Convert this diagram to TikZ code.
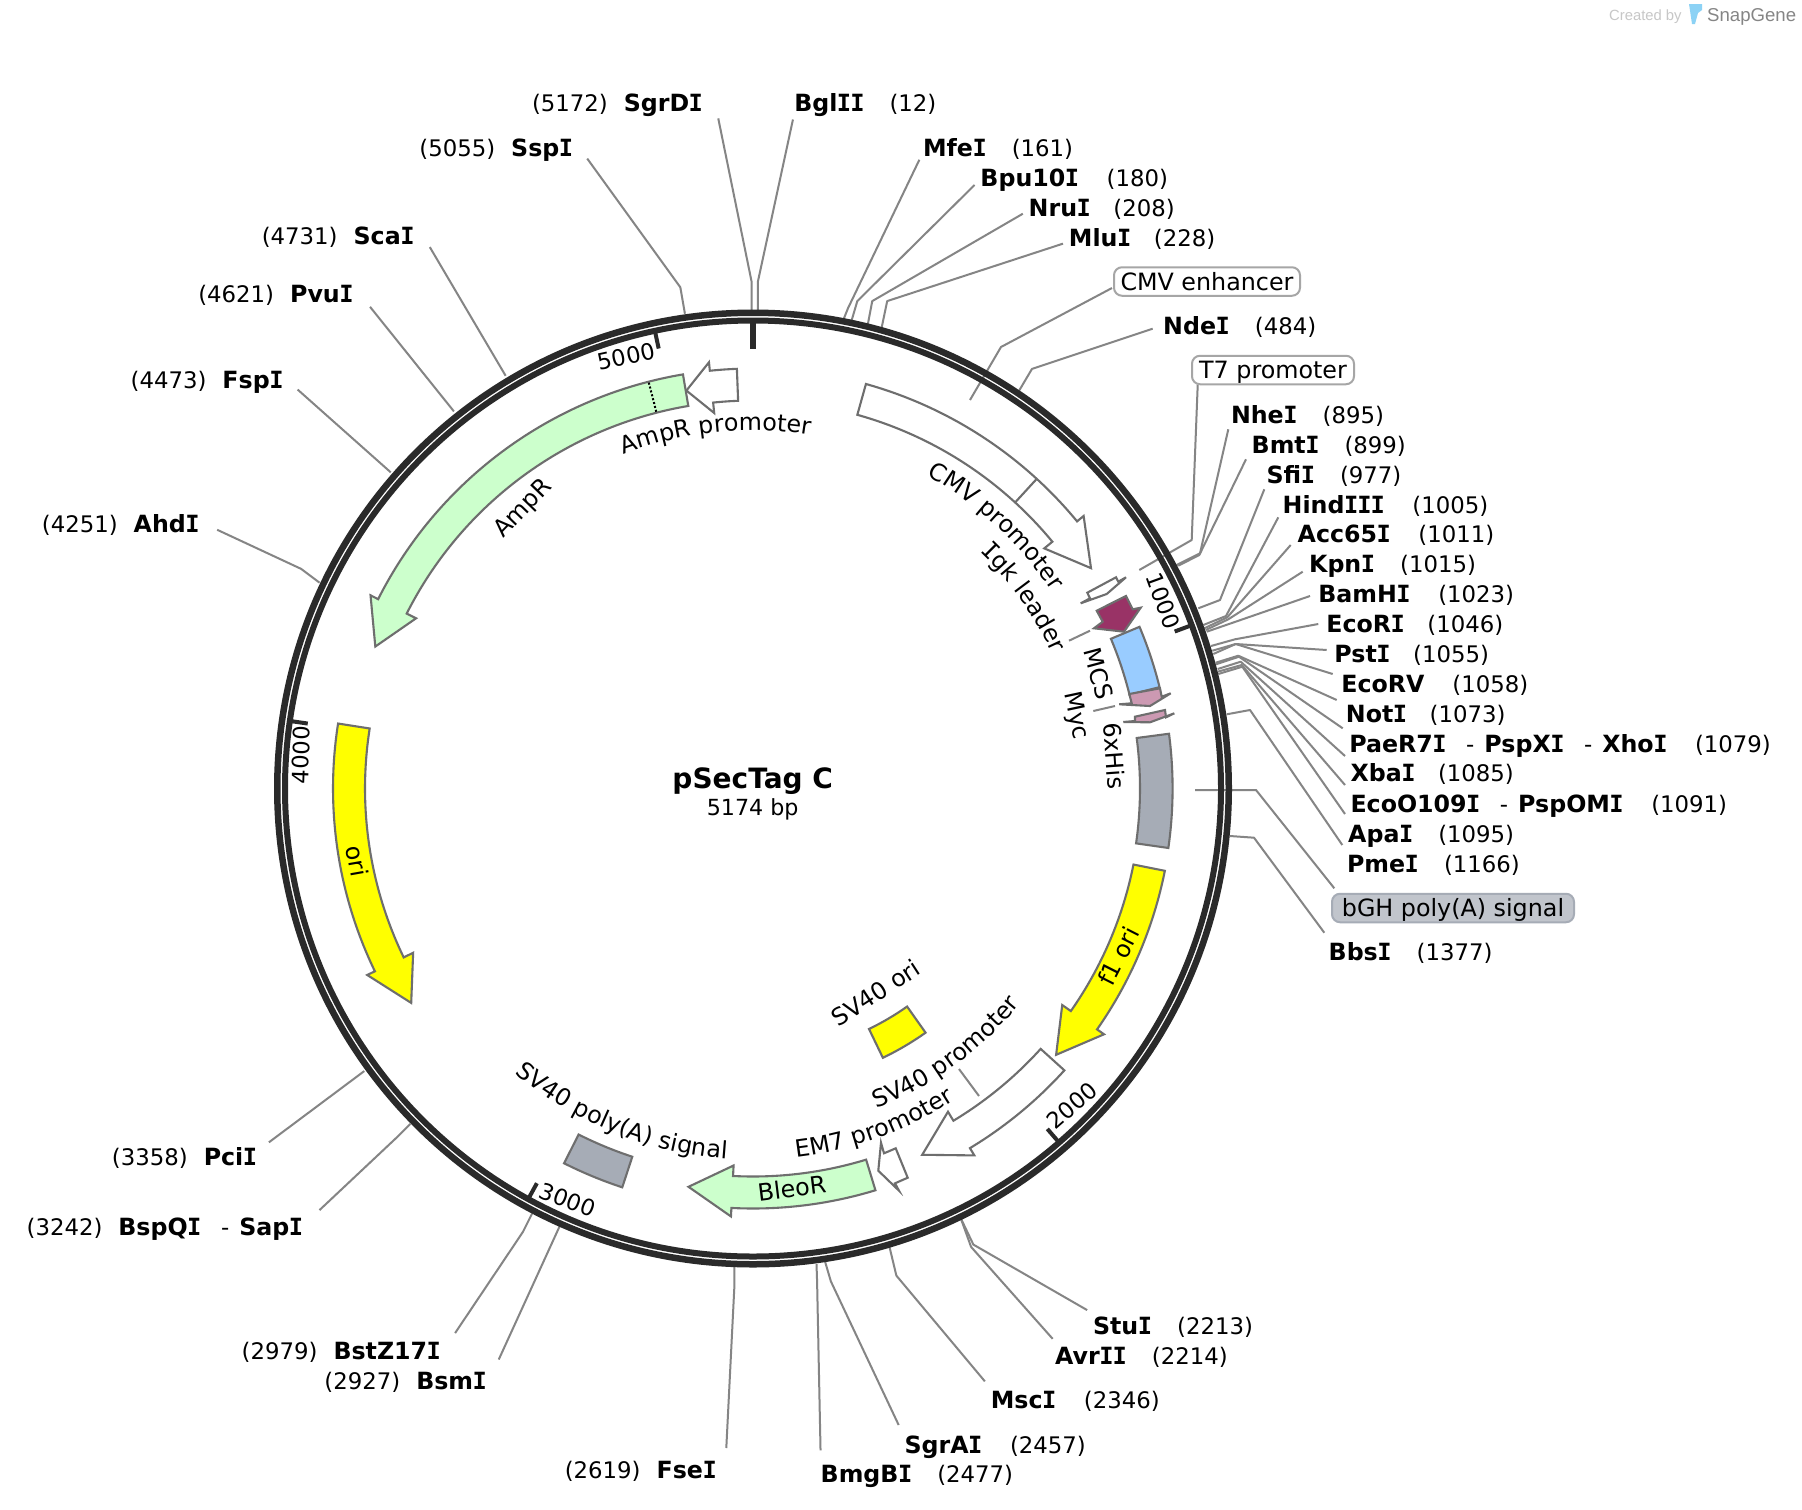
\documentclass[tikz,border=0pt]{standalone}
\usepackage{fontspec}
\setmainfont{DejaVu Sans}
\newfontfamily\monof{DejaVu Sans Mono}
\newfontfamily\snapf{Liberation Sans}
\usetikzlibrary{decorations.text}
\newcommand\bI{\kern-.02em{\monof\bfseries I}\kern-.02em}
\newcommand\lblf{\fontsize{23.8}{28}\selectfont}
\newcommand\bfn{\bfseries\fontsize{23.7}{26}\selectfont}
\newcommand\mdn{\mdseries\fontsize{22.8}{26}\selectfont}
\newcommand\gp{\hspace{25.5pt}}
\newcommand\gw{\hspace{28pt}}
\newcommand\gn{\hspace{23pt}}
\newcommand\gl{\hspace{16pt}}
\newcommand\dsh{\hspace{20pt}{\mdn -}\hspace{10pt}}
\definecolor{ringc}{HTML}{2A2A2A}
\definecolor{featc}{HTML}{6E6E6E}
\definecolor{leadc}{HTML}{858585}
\definecolor{grayf}{HTML}{A6ACB6}
\definecolor{greenf}{HTML}{CCFFCC}
\definecolor{yellowf}{HTML}{FFFF00}
\definecolor{bluef}{HTML}{99CCFF}
\definecolor{pinkf}{HTML}{CC99B2}
\definecolor{crimf}{HTML}{993366}
\definecolor{iconf}{HTML}{8CD2F5}
\tikzset{
 feat/.style={draw=featc,line width=2.1pt,line join=miter,fill=white},
 leader/.style={draw=leadc,line width=2pt,line join=round},
 rsite/.style={inner sep=0pt,font=\fontsize{22.8}{26}\selectfont,text height=17pt,text depth=0pt,anchor=west},
 lsite/.style={rsite,anchor=east},
 flab/.style={inner sep=0pt,font=\lblf},
 ticklab/.style={inner sep=0pt,font=\fontsize{22.6}{26}\selectfont},
 fbox/.style={draw=#1,line width=2pt,rounded corners=8pt,inner sep=0pt,font=\lblf,minimum height=28.5pt,text height=17.5pt,text depth=0pt},
 tickbar/.style={draw=ringc,line width=4pt},
 px/.style={x=1pt,y=-1pt},
 disp/.style={x=1.1492pt,y=-1.1492pt},
}
\newcommand\gene[4]{\draw[feat,fill=#1] (#2-90:420) arc[start angle=#2-90,end angle=#3-90,radius=420] -- (#3-90:428.5) -- (#4-90:403.5) -- (#3-90:377.5) -- (#3-90:388) arc[start angle=#3-90,end angle=#2-90,radius=388] -- cycle;}
\newcommand\seg[5]{\draw[feat,fill=#1] (#2-90:#5) arc[start angle=#2-90,end angle=#3-90,radius=#5] -- (#3-90:#4) arc[start angle=#3-90,end angle=#2-90,radius=#4] -- cycle;}
\newcommand\arctxt[4]{\path[decorate,decoration={text along path,text={|\lblf|#1},text align=center}] (#2-#4-90:#3) arc[start angle=#2-#4-90,end angle=#2+#4-90,radius=#3];}
\newcommand\leadc[4]{\coordinate (#1a) at (#2); \coordinate (#1b) at (#3); \coordinate (#1c) at (#4); \draw[leader] (#1a) -- (#1b) -- (#1c);}
\newcommand\leadb[3]{\coordinate (#1a) at (#2); \coordinate (#1c) at (#3); \draw[leader] (#1a) -- (#1c);}
\begin{document}
\begin{tikzpicture}[px]
\useasboundingbox (0,0) rectangle (1802,1510);
\fill[white] (0,0) rectangle (1802,1510);
% SnapGene mark
\node[inner sep=0pt,anchor=west,text=black!22,font=\snapf\fontsize{14.8}{16}\selectfont] (createdby) at (1609,16.5) {Created by};
\node[inner sep=0pt,anchor=west,text=black!48,font=\snapf\fontsize{18.6}{22}\selectfont] (snapgene) at (1707,17) {SnapGene};
\fill[iconf] (1689,4) -- (1702,4) -- (1702,10) -- (1698,13) -- (1695,24) -- (1692,24) -- cycle;
% leaders in reference pixels
\leadc{nhe}{1228.3,429.3}{1200,553.3}{1176.7,565}
\leadc{bmt}{1246,459.3}{1199.3,555}{1178.3,565.7}
\leadc{sfi}{1264.3,489.3}{1220,600}{1198.3,608.3}
\leadc{hind}{1278.3,517.3}{1226,616}{1203.3,625}
\leadc{acc}{1290.7,545}{1227.3,617.3}{1204.3,628.3}
\leadc{kpn}{1302.7,571.7}{1228.3,619.3}{1205.7,630}
\leadb{bam}{1310,596}{1206.7,631.7}
\leadc{ecori}{1318.3,624}{1235,639.3}{1211,646}
\leadc{pst}{1326.7,650}{1235.7,644}{1212.3,650.7}
\leadc{ecorv}{1332.7,674}{1235.7,644}{1213.3,654}
\leadc{not}{1336.7,700}{1238.3,655.7}{1215.7,662.7}
\leadc{pae}{1342.7,728.3}{1239,656.7}{1216,664.3}
\leadc{xba}{1345,756}{1240.7,661.7}{1217.7,669}
\leadc{eco}{1345,785}{1241.7,665}{1217.7,671.7}
\leadc{apa}{1345,814}{1242.3,666.7}{1218.3,674}
\leadc{pme}{1342.3,845}{1250,710}{1226.7,714.3}
\leadc{bgh}{1334.3,888.3}{1256,790}{1195,790}
\leadc{bbs}{1324.3,932.7}{1254,837.7}{1230,836}
\leadc{tsev}{1197.7,385}{1191.7,540}{1139.3,570}
\leadc{cmve}{1112,288}{1001,347}{970,400}
\leadb{igkt}{1069,640.7}{1090,630.7}
\leadb{mcst}{1093.3,711}{1115,706}
\leadb{svpt}{959,1069}{979,1096}
% leaders in downscaled coordinates
\begin{scope}[disp]
\leadc{sgrdi}{625,103}{654,245}{654,270}
\leadc{bgl}{690,104}{659.5,245}{659.5,270}
\leadc{ssp}{511,138}{592,250}{596,273}
\leadb{sca}{374,215}{440,327}
\leadb{pvu}{322,267}{395,358}
\leadb{fsp}{259,339}{340,411}
\leadc{ahd}{189,461}{262,495}{278,507}
\leadb{pci}{234,994}{317,932}
\leadc{bsp}{278,1053}{345,990}{357,978}
\leadc{bst}{396,1160}{455,1072}{463,1056}
\leadb{bsm}{434,1183}{487,1067}
\leadc{fse}{632,1260}{639,1120}{639,1102}
\leadc{bmg}{714,1262}{711,1115}{710.5,1100}
\leadc{sgra}{782,1240}{723,1115}{718,1098}
\leadc{msc}{857,1202}{780,1110}{774,1085}
\leadc{avr}{916,1165}{845,1085}{836,1060}
\leadc{stu}{946,1140}{847,1083}{836,1060}
\leadc{mfe}{800,139}{738,268}{734,278}
\leadc{bpu}{848,161}{746,262}{741,279}
\leadc{nru}{890,186}{759,262}{755,283}
\leadc{mlu}{925,212}{772,262}{767,286}
\leadc{nde}{1003,286}{898,321}{885,343}
\end{scope}
% plasmid
\begin{scope}[shift={(753,788.5)}]
\draw[ringc,line width=6.5pt] (0,0) circle[radius=475.75];
\draw[ringc,line width=6pt] (0,0) circle[radius=468];
\coordinate (t0a) at (-90:466); \coordinate (t0b) at (-90:440);
\draw[draw=ringc,line width=6pt] (t0a) -- (t0b);
\foreach \t/\n in {69.58/a,139.15/b,208.7/c,278.3/d,347.9/e}{
 \coordinate (t\n a) at (\t-90:466); \coordinate (t\n b) at (\t-90:450);
 \draw[tickbar] (t\n a) -- (t\n b);
}
% features
\gene{greenf}{-9.6}{-63.2}{-69.4}
\draw[black,line width=2pt,dotted] (-14.4-90:389) -- (-14.4-90:420);
\gene{white}{-2.2}{-5.9}{-9.5}
\gene{white}{15.6}{50.5}{56.9}
\draw[feat] (42.5-90:388) -- (42.5-90:420);
\gene{yellowf}{-81.1}{-115.8}{-122.1}
\gene{yellowf}{101.3}{125}{131.3}
\gene{white}{132.15}{148.9}{155.2}
\gene{greenf}{163.05}{182.95}{189.2}
\seg{bluef}{67.3}{76}{388}{419}
\seg{grayf}{82.5}{98.15}{387}{419.6}
\seg{grayf}{198.15}{206.75}{387.5}{419.7}
\seg{yellowf}{144.75}{154.25}{267}{299}
\arctxt{AmpR promoter}{-6}{358}{30}
\arctxt{CMV promoter}{42.8}{358}{30}
\arctxt{|\lblf\monof|I|\lblf|gk leader}{54.7}{328}{30}
\arctxt{SV40 promoter}{143.9}{343}{-30}
\arctxt{EM7 promoter}{160.2}{371}{-28}
\arctxt{SV40 poly(A) signal}{202}{371}{-35}
\end{scope}
% small features drawn point by point
\draw[feat] (1087.3,592.7) -- (1116,577.3) -- (1118.3,581.7) -- (1126,577.3) -- (1106.7,594) -- (1080.7,603.3) -- (1090,598.3) -- cycle;
\draw[feat,fill=crimf] (1096.7,610.7) -- (1126,596) -- (1132.7,609.3) -- (1140.7,607.7) -- (1124,631.7) -- (1094,628.3) -- (1102.7,621.7) -- cycle;
\draw[feat,fill=pinkf] (1129.3,694) -- (1160,688.3) -- (1161.7,696.7) -- (1170.7,693.3) -- (1150,706) -- (1119.3,704.3) -- (1131.7,703.3) -- cycle;
\draw[feat,fill=pinkf] (1135,716.7) -- (1165,710) -- (1166,717.3) -- (1174.3,713.3) -- (1150,722.3) -- (1123.3,722) -- (1135,721) -- cycle;
\draw[feat] (895.7,1148.3) -- (907.7,1177.7) -- (895,1183.3) -- (899,1190.7) -- (878.3,1170.7) -- (881,1142.7) -- (884,1153.3) -- cycle;
% labels
\begin{scope}[disp]
\node[inner sep=0pt,font=\bfseries\fontsize{28}{32}\selectfont,text height=20.5pt,text depth=0pt] (name) at (655,677) {pSecTag C};
\node[inner sep=0pt,font=\fontsize{22.2}{26}\selectfont] (bp) at (655,704) {5174 bp};
\node[ticklab,rotate=12] (l5000) at (545,310) {5000};
\node[ticklab,rotate=-70] (l1000) at (1012,523) {1000};
\node[ticklab,rotate=41] (l2000) at (933,962) {2000};
\node[ticklab,rotate=-21] (l3000) at (494,1044) {3000};
\node[ticklab,rotate=88] (l4000) at (262,657) {4000};
\node[flab,rotate=46] (lamp) at (455.5,443) {AmpR};
\node[flab,rotate=-80] (lori) at (311,749) {ori};
\node[flab,rotate=63] (lf1) at (973,832) {f1 ori};
\node[flab,rotate=7] (lble) at (689,1034) {BleoR};
\node[flab,rotate=-75] (lmcs) at (956,586) {MCS};
\node[flab,rotate=-78] (lmyc) at (936,623) {Myc};
\node[flab,rotate=-86] (lhis) at (970,658) {6xHis};
\node[flab,rotate=33] (lsvo) at (762,864) {SV40 ori};
\node[rsite] (bgl) at (691,90) {\bfn Bgl\bI\bI\gp{\mdn(12)}};
\node[rsite] (mfe) at (803,129) {\bfn Mfe\bI\gp{\mdn(161)}};
\node[rsite] (bpu) at (853,155) {\bfn Bpu10\bI\gw{\mdn(180)}};
\node[rsite] (nru) at (895,181) {\bfn Nru\bI\gn{\mdn(208)}};
\node[rsite] (mlu) at (930,207) {\bfn Mlu\bI\gn{\mdn(228)}};
\node[rsite] (nde) at (1012,284) {\bfn Nde\bI\gp{\mdn(484)}};
\node[rsite] (nhe) at (1071,361) {\bfn Nhe\bI\gp{\mdn(895)}};
\node[rsite] (bmt) at (1089,387) {\bfn Bmt\bI\gp{\mdn(899)}};
\node[rsite] (sfi) at (1102,413) {\bfn Sfi\bI\gp{\mdn(977)}};
\node[rsite] (hind) at (1116,439) {\bfn Hind\bI\bI\bI\gw{\mdn(1005)}};
\node[rsite] (acc) at (1129,465) {\bfn Acc65\bI\gw{\mdn(1011)}};
\node[rsite] (kpn) at (1139,491) {\bfn Kpn\bI\gp{\mdn(1015)}};
\node[rsite] (bam) at (1147,517) {\bfn BamH\bI\gw{\mdn(1023)}};
\node[rsite] (ecori) at (1154,543) {\bfn EcoR\bI\gn{\mdn(1046)}};
\node[rsite] (pst) at (1161,569) {\bfn Pst\bI\gn{\mdn(1055)}};
\node[rsite] (ecorv) at (1167,595) {\bfn EcoRV\gw{\mdn(1058)}};
\node[rsite] (not) at (1171,621) {\bfn Not\bI\gn{\mdn(1073)}};
\node[rsite] (pae) at (1174,647) {\bfn PaeR7\bI\dsh PspX\bI\dsh Xho\bI\gw{\mdn(1079)}};
\node[rsite] (xba) at (1175,673) {\bfn Xba\bI\gn{\mdn(1085)}};
\node[rsite] (eco) at (1175,700) {\bfn EcoO109\bI\dsh PspOM\bI\gw{\mdn(1091)}};
\node[rsite] (apa) at (1173,726) {\bfn Apa\bI\gp{\mdn(1095)}};
\node[rsite] (pme) at (1172,752) {\bfn Pme\bI\gp{\mdn(1166)}};
\node[rsite] (bbs) at (1156,828) {\bfn Bbs\bI\gp{\mdn(1377)}};
\node[rsite] (stu) at (951,1154) {\bfn Stu\bI\gp{\mdn(2213)}};
\node[rsite] (avr) at (918,1180) {\bfn Avr\bI\bI\gp{\mdn(2214)}};
\node[rsite] (msc) at (862,1218) {\bfn Msc\bI\gw{\mdn(2346)}};
\node[rsite] (sgra) at (787,1257) {\bfn SgrA\bI\gw{\mdn(2457)}};
\node[rsite] (bmg) at (714,1283) {\bfn BmgB\bI\gp{\mdn(2477)}};
\node[lsite] (sgrd) at (611.5,90) {(5172)\gl{\bfn SgrD\bI}};
\node[lsite] (ssp) at (498.5,129) {(5055)\gl{\bfn Ssp\bI}};
\node[lsite] (sca) at (360.5,205) {(4731)\gl{\bfn Sca\bI}};
\node[lsite] (pvu) at (307.5,256) {(4621)\gl{\bfn Pvu\bI}};
\node[lsite] (fsp) at (246.5,331) {(4473)\gl{\bfn Fsp\bI}};
\node[lsite] (ahd) at (173.5,456) {(4251)\gl{\bfn Ahd\bI}};
\node[lsite] (pci) at (223.5,1007) {(3358)\gl{\bfn Pci\bI}};
\node[lsite] (bsp) at (263.5,1068) {(3242)\gl{\bfn BspQ\bI\dsh Sap\bI}};
\node[lsite] (bst) at (383.5,1176) {(2979)\gl{\bfn BstZ17\bI}};
\node[lsite] (bsm) at (423.5,1202) {(2927)\gl{\bfn Bsm\bI}};
\node[lsite] (fse) at (623.5,1279) {(2619)\gl{\bfn Fse\bI}};
\end{scope}
\node[fbox=black!35,minimum width=186pt,fill=white] (cmv) at (1207,281.5) {CMV enhancer};
\node[fbox=black!35,minimum width=162pt,fill=white] (t7) at (1273,370) {T7 promoter};
\node[fbox=grayf,minimum width=242pt,fill=grayf!70] (bghn) at (1453,908) {bGH poly(A) signal};
\end{tikzpicture}
\end{document}
